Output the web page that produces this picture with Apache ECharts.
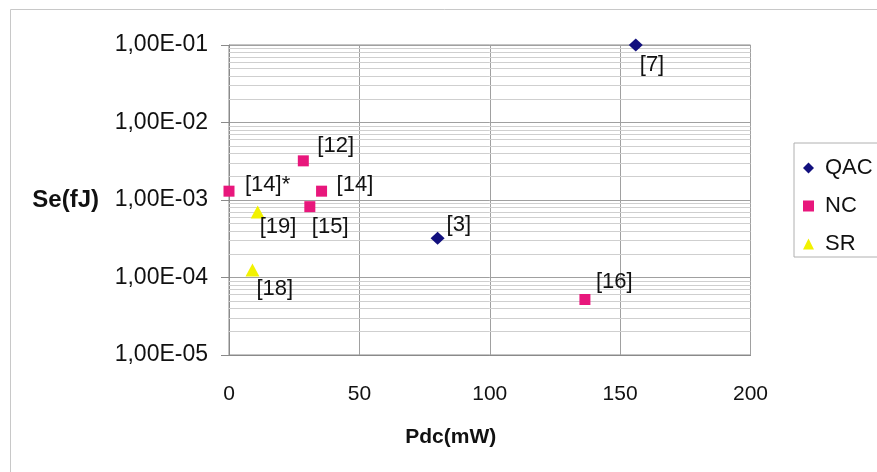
<!DOCTYPE html>
<html>
<head>
<meta charset="utf-8">
<script src="https://cdn.jsdelivr.net/npm/echarts@6/dist/echarts.min.js"></script>
<style>
html,body{margin:0;padding:0;background:#fff;}
#chart{width:877px;height:472px;}
</style>
</head>
<body>
<div id="chart"></div>
<script>
// ---- data ----
var seriesNames = ['QAC', 'NC', 'SR'];
var qacX = [156, 80];
var qacY = [0.1, 3.2e-4];
var qacLabels = ['[7]', '[3]'];
var ncX = [28.5, 0, 35.5, 31, 136.5];
var ncY = [3.2e-3, 1.3e-3, 1.3e-3, 8.2e-4, 5.2e-5];
var ncLabels = ['[12]', '[14]*', '[14]', '[15]', '[16]'];
var srX = [11, 9];
var srY = [7e-4, 1.25e-4];
var srLabels = ['[19]', '[18]'];
var xTicks = [0, 50, 100, 150, 200];
var yTickValues = [1e-5, 1e-4, 1e-3, 1e-2, 1e-1];
var yTickLabels = ['1,00E-05', '1,00E-04', '1,00E-03', '1,00E-02', '1,00E-01'];
var minorMultipliers = [2, 3, 4, 5, 6, 7, 8, 9];
var minorDecades = [1e-5, 1e-4, 1e-3, 1e-2];

// ---- styling (label placement relative to marker centre) ----
var labelOffsets = {
  '[7]': [4, 20], '[3]': [9, -13], '[12]': [14, -15], '[14]*': [16, -6],
  '[14]': [15, -6], '[15]': [2, 20], '[16]': [11, -18], '[19]': [2, 15], '[18]': [4, 19]
};
var FONT = '"Liberation Sans", Arial, sans-serif';

function pts(xs, ys, labels) {
  return xs.map(function (x, i) {
    var off = labelOffsets[labels[i]] || [6, 0];
    return {
      value: [x, ys[i]],
      name: labels[i],
      label: { offset: off }
    };
  });
}

var minorLines = [];
minorDecades.forEach(function (d) {
  minorMultipliers.forEach(function (m) { minorLines.push({ yAxis: d * m }); });
});

function labelCfg() {
  return {
    show: true,
    position: 'inside',
    align: 'left',
    verticalAlign: 'middle',
    formatter: '{b}',
    color: '#111',
    textBorderWidth: 0,
    fontSize: 22,
    fontFamily: FONT
  };
}

var chart = echarts.init(document.getElementById('chart'), null, { renderer: 'canvas' });
chart.setOption({
  animation: false,
  backgroundColor: '#fff',
  graphic: [{
    type: 'rect', left: 8, top: 7, silent: true, z: -10,
    shape: { width: 900, height: 500 },
    style: { fill: 'none', stroke: '#c8c8c8', lineWidth: 1 }
  }],
  grid: {
    left: 229, top: 45, width: 521.5, height: 310,
    show: true, borderColor: '#8a8a8a', borderWidth: 1, backgroundColor: 'transparent'
  },
  legend: {
    orient: 'vertical',
    left: 794, top: 143,
    padding: [14, 30, 2, 9],
    itemGap: 16,
    itemWidth: 11, itemHeight: 11,
    borderColor: '#b0b0b0', borderWidth: 1,
    textStyle: { fontSize: 22, fontFamily: FONT, color: '#111', padding: [0, 0, 0, 6] },
    data: seriesNames
  },
  xAxis: {
    type: 'value', min: xTicks[0], max: xTicks[xTicks.length - 1], interval: 50,
    name: 'Pdc(mW)', nameLocation: 'middle', nameGap: 72,
    nameTextStyle: { fontSize: 21, fontWeight: 'bold', fontFamily: FONT, color: '#111', padding: [0, 78, 0, 0] },
    axisLine: { lineStyle: { color: '#8a8a8a' } },
    axisTick: { show: false },
    axisLabel: { margin: 29, fontSize: 21, fontFamily: FONT, color: '#111' },
    splitLine: { show: true, lineStyle: { color: '#a0a0a0', width: 1 } }
  },
  yAxis: {
    type: 'log', logBase: 10, min: yTickValues[0], max: yTickValues[yTickValues.length - 1],
    name: 'Se(fJ)', nameLocation: 'middle', nameRotate: 0, nameGap: 130,
    nameTextStyle: { fontSize: 24, fontWeight: 'bold', fontFamily: FONT, color: '#111' },
    axisLine: { show: true, lineStyle: { color: '#8a8a8a' } },
    axisTick: { show: true, length: 8, lineStyle: { color: '#8a8a8a' } },
    axisLabel: {
      margin: 21, fontSize: 23, fontFamily: FONT, color: '#111',
      formatter: function (v) {
        for (var i = 0; i < yTickValues.length; i++) {
          if (Math.abs(Math.log10(v) - Math.log10(yTickValues[i])) < 1e-6) return yTickLabels[i];
        }
        return '';
      }
    },
    splitLine: { show: true, lineStyle: { color: '#a0a0a0', width: 1 } }
  },
  series: [
    {
      name: 'QAC', type: 'scatter', clip: false,
      symbol: 'diamond', symbolSize: [14, 13],
      itemStyle: { color: '#12107e', opacity: 1 },
      label: labelCfg(),
      data: pts(qacX, qacY, qacLabels),
      z: 5,
      markLine: {
        silent: true, symbol: 'none', z: 1, precision: 12,
        label: { show: false },
        emphasis: { disabled: true },
        lineStyle: { color: '#cfcfcf', width: 1, type: 'solid' },
        data: minorLines
      }
    },
    {
      name: 'NC', type: 'scatter', clip: false,
      symbol: 'rect', symbolSize: 11,
      itemStyle: { color: '#e8177c', opacity: 1 },
      label: labelCfg(),
      data: pts(ncX, ncY, ncLabels),
      z: 5
    },
    {
      name: 'SR', type: 'scatter', clip: false,
      symbol: 'triangle', symbolSize: [14, 13],
      itemStyle: { color: '#f2f200', opacity: 1 },
      label: labelCfg(),
      data: pts(srX, srY, srLabels),
      z: 5
    }
  ]
});
</script>
</body>
</html>
